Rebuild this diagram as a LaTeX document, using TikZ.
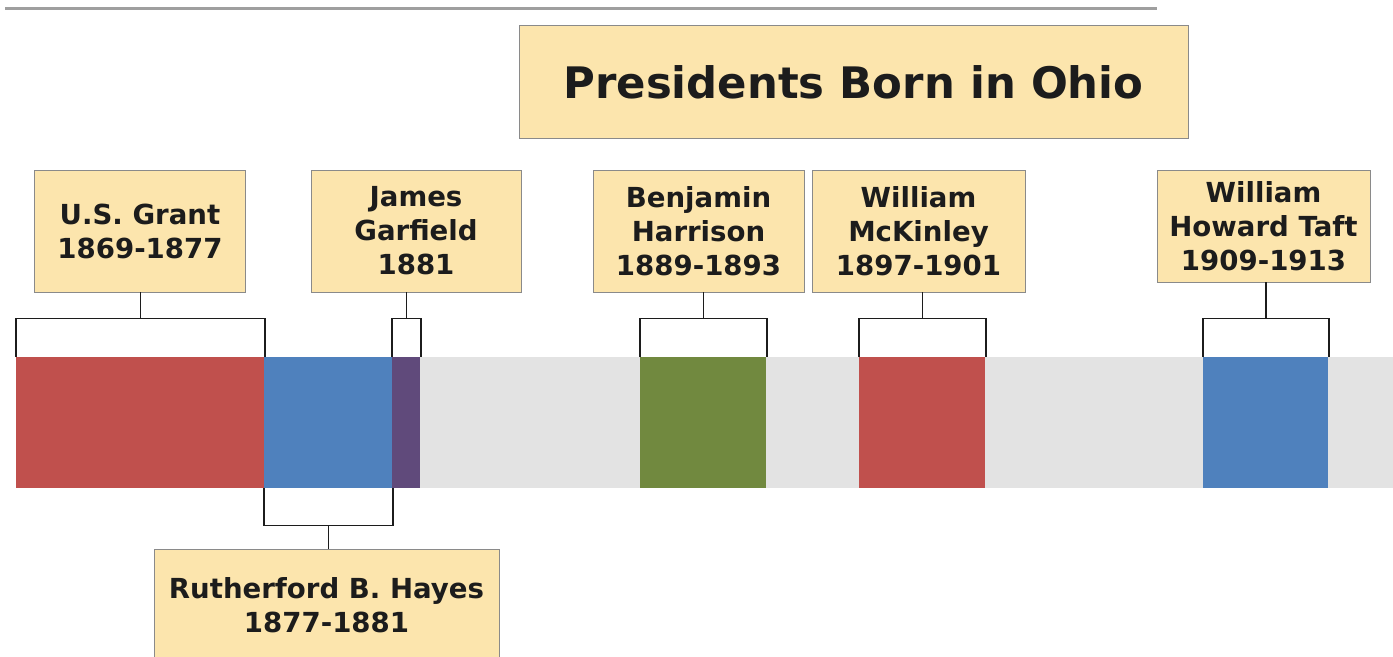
\documentclass[tikz,border=0pt]{standalone}
\usepackage{fontspec}
\setsansfont{DejaVu Sans}
\usetikzlibrary{positioning}

\definecolor{boxfill}{HTML}{FCE5AD}
\definecolor{boxline}{HTML}{8A8A8A}
\definecolor{inkcol}{HTML}{1C1C1C}
\definecolor{bandgray}{HTML}{E3E3E3}
\definecolor{rulegray}{HTML}{9F9F9F}
\definecolor{termred}{HTML}{C0504D}
\definecolor{termblue}{HTML}{4F81BD}
\definecolor{termpurple}{HTML}{604A7B}
\definecolor{termgreen}{HTML}{71893F}

\begin{document}
\begin{tikzpicture}[
    x=0.5pt, y=-0.5pt,
    font=\sffamily\bfseries,
    namebox/.style={
      draw=boxline,
      fill=boxfill,
      text=inkcol,
      align=center,
      inner sep=0pt,
      minimum height=61pt,
      font=\sffamily\bfseries\fontsize{13.8}{17}\selectfont
    },
    titlebox/.style={
      draw=boxline,
      fill=boxfill,
      text=inkcol,
      inner sep=0pt,
      minimum width=334.5pt,
      minimum height=56.5pt,
      font=\sffamily\bfseries\fontsize{21.7}{26}\selectfont
    },
    bar/.style={
      fill=#1,
      inner sep=0pt,
      anchor=west,
      minimum height=65.5pt
    },
    bracket/.style={draw=inkcol, line width=0.8pt},
]

\clip (0,0) rectangle (1393,657);

% Rule along the top
\draw[rulegray, line width=1.5pt] (5,9) -- (1157,9);

% Title
\node[titlebox] (title) at (853.5,82) {Presidents Born in Ohio};

% Timeline band
\fill[bandgray] (16,357) rectangle (1393,488);

% Terms
\node[bar=termred, minimum width=124pt] (grantbar) at (16,422.5) {};
\node[bar=termblue, minimum width=64pt] (hayesbar) at (264,422.5) {};
\node[bar=termpurple, minimum width=14pt] (garfieldbar) at (392,422.5) {};
\node[bar=termgreen, minimum width=63pt] (harrisonbar) at (640,422.5) {};
\node[bar=termred, minimum width=63pt] (mckinleybar) at (859,422.5) {};
\node[bar=termblue, minimum width=62.5pt] (taftbar) at (1203,422.5) {};

% Name boxes
\node[namebox, minimum width=105.5pt] (grant) at (140,231) {U.S. Grant\\1869-1877};
\node[namebox, minimum width=105pt] (garfield) at (416,231) {James\\Garfield\\1881};
\node[namebox, minimum width=105.5pt] (harrison) at (698.5,231) {Benjamin\\Harrison\\1889-1893};
\node[namebox, minimum width=106.5pt] (mckinley) at (918.5,231) {William\\McKinley\\1897-1901};
\node[namebox, minimum width=106.5pt, minimum height=56pt] (taft) at (1263.5,226) {William\\Howard Taft\\1909-1913};
\node[namebox, minimum width=172.5pt, minimum height=56pt] (hayes) at (326.5,605) {Rutherford B. Hayes\\1877-1881};

% Brackets above the band
\foreach \who in {grant, garfield, harrison, mckinley, taft} {
  \coordinate (\who bk) at ([yshift=19pt]\who bar.north);
  \draw[bracket] (\who bar.north west) |- (\who bk) -| (\who bar.north east);
  \draw[bracket] (\who bk) -- (\who bk |- \who.south);
}

% Bracket below the band
\coordinate (hayesbk) at ([yshift=-18.5pt]hayesbar.south);
\draw[bracket] (hayesbar.south west) |- (hayesbk) -| (hayesbar.south east);
\draw[bracket] (hayesbk) -- (hayesbk |- hayes.north);

\end{tikzpicture}
\end{document}
